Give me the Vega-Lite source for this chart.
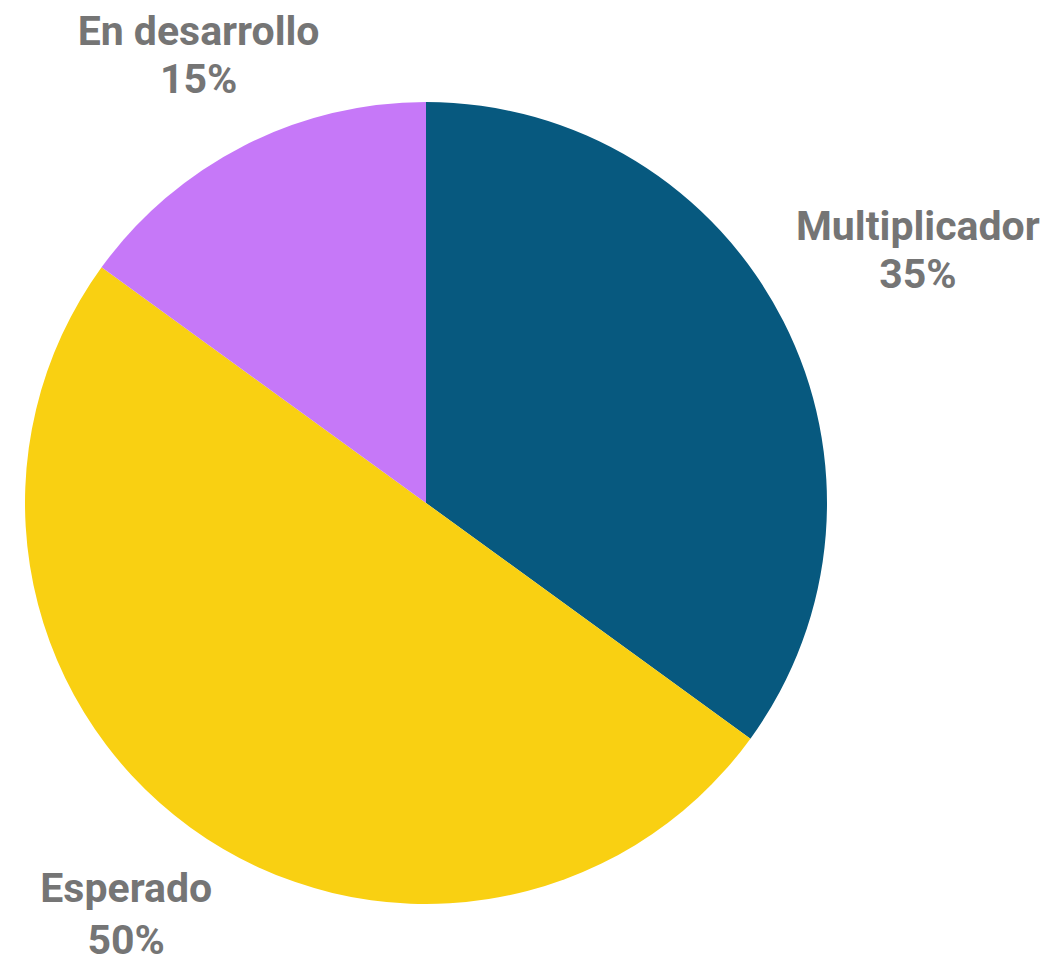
{
  "$schema": "https://vega.github.io/schema/vega-lite/v6.json",
  "width": 852,
  "height": 1006,
  "autosize": {"type": "none"},
  "padding": {"left": 0, "top": 0, "right": 201, "bottom": 0},
  "background": "white",
  "config": {"view": {"stroke": null}},
  "data": {
    "values": [
      {"categoria": "Multiplicador", "valor": 35, "etiqueta": "35%", "orden": 1},
      {"categoria": "Esperado", "valor": 50, "etiqueta": "50%", "orden": 2},
      {"categoria": "En desarrollo", "valor": 15, "etiqueta": "15%", "orden": 3}
    ]
  },
  "encoding": {
    "theta": {"field": "valor", "type": "quantitative", "stack": true},
    "order": {"field": "orden", "type": "quantitative", "sort": "ascending"}
  },
  "layer": [
    {
      "mark": {"type": "arc", "outerRadius": 401},
      "encoding": {
        "color": {
          "field": "categoria",
          "type": "nominal",
          "scale": {
            "domain": ["Multiplicador", "Esperado", "En desarrollo"],
            "range": ["#07597F", "#F9D012", "#C678F8"]
          },
          "legend": null
        }
      }
    },
    {
      "mark": {"type": "text", "font": "Roboto", "fontWeight": "bold", "fontSize": 41, "fill": "#757575", "baseline": "middle", "align": "center",
        "dy": {"expr": "datum.categoria === 'Esperado' ? -26 : -24"},
        "radius": {"expr": "datum.categoria === 'Multiplicador' ? 552 : (datum.categoria === 'En desarrollo' ? 501 : 510)"}},
      "encoding": {
        "text": {"field": "categoria"}
      }
    },
    {
      "mark": {"type": "text", "font": "Roboto", "fontWeight": "bold", "fontSize": 41, "fill": "#757575", "baseline": "middle", "align": "center",
        "dy": {"expr": "datum.categoria === 'Esperado' ? 26 : 24"},
        "radius": {"expr": "datum.categoria === 'Multiplicador' ? 552 : (datum.categoria === 'En desarrollo' ? 501 : 510)"}},
      "encoding": {
        "text": {"field": "etiqueta"}
      }
    }
  ]
}
